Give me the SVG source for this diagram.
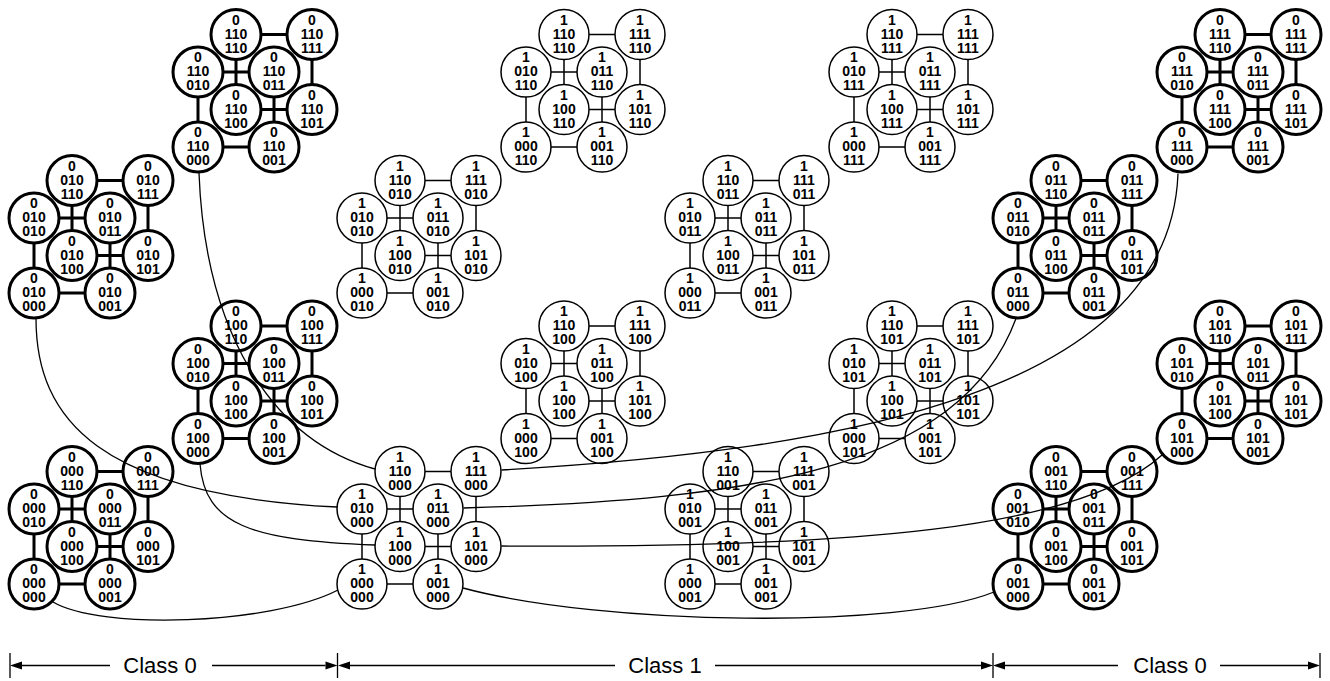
<svg xmlns="http://www.w3.org/2000/svg" width="1330" height="681" viewBox="0 0 1330 681">
<style>
.cube circle{fill:#fff;stroke:#000}
.k circle{stroke-width:3}
.t circle{stroke-width:1.5}
.e{fill:none;stroke:#000}
.k .e{stroke-width:3}
.t .e{stroke-width:1.5}
.cube text{font-family:"Liberation Sans",Arial,sans-serif;font-weight:bold;font-size:14px;text-anchor:middle;fill:#000}
#connectors path{fill:none;stroke:#000;stroke-width:1.3}
#dims path{fill:none;stroke:#000;stroke-width:1.3}
#dims polygon{fill:#000}
#dims text{font-family:"Liberation Sans",Arial,sans-serif;font-size:22px;text-anchor:middle;fill:#000}
</style>
<defs>
<path id="edges" d="M0 0H76M0 0V-75M0 -75H76M76 0V-75M38 -37.5H114M38 -37.5V-112.5M38 -112.5H114M114 -37.5V-112.5"/>
</defs>

<!-- Class 0 left -->
<g id="cube0-000" class="cube k" transform="translate(34,584)">
<use href="#edges" class="e"/>
<g id="n0-000-000"><circle r="25"/><text><tspan x="0" y="-10">0</tspan><tspan x="0" y="4">000</tspan><tspan x="0" y="18">000</tspan></text></g>
<g id="n0-000-001" transform="translate(76,0)"><circle r="25"/><text><tspan x="0" y="-10">0</tspan><tspan x="0" y="4">000</tspan><tspan x="0" y="18">001</tspan></text></g>
<g id="n0-000-010" transform="translate(0,-75)"><circle r="25"/><text><tspan x="0" y="-10">0</tspan><tspan x="0" y="4">000</tspan><tspan x="0" y="18">010</tspan></text></g>
<g id="n0-000-011" transform="translate(76,-75)"><circle r="25"/><text><tspan x="0" y="-10">0</tspan><tspan x="0" y="4">000</tspan><tspan x="0" y="18">011</tspan></text></g>
<g id="n0-000-100" transform="translate(38,-37.5)"><circle r="25"/><text><tspan x="0" y="-10">0</tspan><tspan x="0" y="4">000</tspan><tspan x="0" y="18">100</tspan></text></g>
<g id="n0-000-101" transform="translate(114,-37.5)"><circle r="25"/><text><tspan x="0" y="-10">0</tspan><tspan x="0" y="4">000</tspan><tspan x="0" y="18">101</tspan></text></g>
<g id="n0-000-110" transform="translate(38,-112.5)"><circle r="25"/><text><tspan x="0" y="-10">0</tspan><tspan x="0" y="4">000</tspan><tspan x="0" y="18">110</tspan></text></g>
<g id="n0-000-111" transform="translate(114,-112.5)"><circle r="25"/><text><tspan x="0" y="-10">0</tspan><tspan x="0" y="4">000</tspan><tspan x="0" y="18">111</tspan></text></g>
</g>

<g id="cube0-100" class="cube k" transform="translate(198,438.5)">
<use href="#edges" class="e"/>
<g id="n0-100-000"><circle r="25"/><text><tspan x="0" y="-10">0</tspan><tspan x="0" y="4">100</tspan><tspan x="0" y="18">000</tspan></text></g>
<g id="n0-100-001" transform="translate(76,0)"><circle r="25"/><text><tspan x="0" y="-10">0</tspan><tspan x="0" y="4">100</tspan><tspan x="0" y="18">001</tspan></text></g>
<g id="n0-100-010" transform="translate(0,-75)"><circle r="25"/><text><tspan x="0" y="-10">0</tspan><tspan x="0" y="4">100</tspan><tspan x="0" y="18">010</tspan></text></g>
<g id="n0-100-011" transform="translate(76,-75)"><circle r="25"/><text><tspan x="0" y="-10">0</tspan><tspan x="0" y="4">100</tspan><tspan x="0" y="18">011</tspan></text></g>
<g id="n0-100-100" transform="translate(38,-37.5)"><circle r="25"/><text><tspan x="0" y="-10">0</tspan><tspan x="0" y="4">100</tspan><tspan x="0" y="18">100</tspan></text></g>
<g id="n0-100-101" transform="translate(114,-37.5)"><circle r="25"/><text><tspan x="0" y="-10">0</tspan><tspan x="0" y="4">100</tspan><tspan x="0" y="18">101</tspan></text></g>
<g id="n0-100-110" transform="translate(38,-112.5)"><circle r="25"/><text><tspan x="0" y="-10">0</tspan><tspan x="0" y="4">100</tspan><tspan x="0" y="18">110</tspan></text></g>
<g id="n0-100-111" transform="translate(114,-112.5)"><circle r="25"/><text><tspan x="0" y="-10">0</tspan><tspan x="0" y="4">100</tspan><tspan x="0" y="18">111</tspan></text></g>
</g>

<g id="cube0-010" class="cube k" transform="translate(34,293)">
<use href="#edges" class="e"/>
<g id="n0-010-000"><circle r="25"/><text><tspan x="0" y="-10">0</tspan><tspan x="0" y="4">010</tspan><tspan x="0" y="18">000</tspan></text></g>
<g id="n0-010-001" transform="translate(76,0)"><circle r="25"/><text><tspan x="0" y="-10">0</tspan><tspan x="0" y="4">010</tspan><tspan x="0" y="18">001</tspan></text></g>
<g id="n0-010-010" transform="translate(0,-75)"><circle r="25"/><text><tspan x="0" y="-10">0</tspan><tspan x="0" y="4">010</tspan><tspan x="0" y="18">010</tspan></text></g>
<g id="n0-010-011" transform="translate(76,-75)"><circle r="25"/><text><tspan x="0" y="-10">0</tspan><tspan x="0" y="4">010</tspan><tspan x="0" y="18">011</tspan></text></g>
<g id="n0-010-100" transform="translate(38,-37.5)"><circle r="25"/><text><tspan x="0" y="-10">0</tspan><tspan x="0" y="4">010</tspan><tspan x="0" y="18">100</tspan></text></g>
<g id="n0-010-101" transform="translate(114,-37.5)"><circle r="25"/><text><tspan x="0" y="-10">0</tspan><tspan x="0" y="4">010</tspan><tspan x="0" y="18">101</tspan></text></g>
<g id="n0-010-110" transform="translate(38,-112.5)"><circle r="25"/><text><tspan x="0" y="-10">0</tspan><tspan x="0" y="4">010</tspan><tspan x="0" y="18">110</tspan></text></g>
<g id="n0-010-111" transform="translate(114,-112.5)"><circle r="25"/><text><tspan x="0" y="-10">0</tspan><tspan x="0" y="4">010</tspan><tspan x="0" y="18">111</tspan></text></g>
</g>

<g id="cube0-110" class="cube k" transform="translate(198,147)">
<use href="#edges" class="e"/>
<g id="n0-110-000"><circle r="25"/><text><tspan x="0" y="-10">0</tspan><tspan x="0" y="4">110</tspan><tspan x="0" y="18">000</tspan></text></g>
<g id="n0-110-001" transform="translate(76,0)"><circle r="25"/><text><tspan x="0" y="-10">0</tspan><tspan x="0" y="4">110</tspan><tspan x="0" y="18">001</tspan></text></g>
<g id="n0-110-010" transform="translate(0,-75)"><circle r="25"/><text><tspan x="0" y="-10">0</tspan><tspan x="0" y="4">110</tspan><tspan x="0" y="18">010</tspan></text></g>
<g id="n0-110-011" transform="translate(76,-75)"><circle r="25"/><text><tspan x="0" y="-10">0</tspan><tspan x="0" y="4">110</tspan><tspan x="0" y="18">011</tspan></text></g>
<g id="n0-110-100" transform="translate(38,-37.5)"><circle r="25"/><text><tspan x="0" y="-10">0</tspan><tspan x="0" y="4">110</tspan><tspan x="0" y="18">100</tspan></text></g>
<g id="n0-110-101" transform="translate(114,-37.5)"><circle r="25"/><text><tspan x="0" y="-10">0</tspan><tspan x="0" y="4">110</tspan><tspan x="0" y="18">101</tspan></text></g>
<g id="n0-110-110" transform="translate(38,-112.5)"><circle r="25"/><text><tspan x="0" y="-10">0</tspan><tspan x="0" y="4">110</tspan><tspan x="0" y="18">110</tspan></text></g>
<g id="n0-110-111" transform="translate(114,-112.5)"><circle r="25"/><text><tspan x="0" y="-10">0</tspan><tspan x="0" y="4">110</tspan><tspan x="0" y="18">111</tspan></text></g>
</g>

<!-- Class 0 right -->
<g id="cube0-001" class="cube k" transform="translate(1018,584)">
<use href="#edges" class="e"/>
<g id="n0-001-000"><circle r="25"/><text><tspan x="0" y="-10">0</tspan><tspan x="0" y="4">001</tspan><tspan x="0" y="18">000</tspan></text></g>
<g id="n0-001-001" transform="translate(76,0)"><circle r="25"/><text><tspan x="0" y="-10">0</tspan><tspan x="0" y="4">001</tspan><tspan x="0" y="18">001</tspan></text></g>
<g id="n0-001-010" transform="translate(0,-75)"><circle r="25"/><text><tspan x="0" y="-10">0</tspan><tspan x="0" y="4">001</tspan><tspan x="0" y="18">010</tspan></text></g>
<g id="n0-001-011" transform="translate(76,-75)"><circle r="25"/><text><tspan x="0" y="-10">0</tspan><tspan x="0" y="4">001</tspan><tspan x="0" y="18">011</tspan></text></g>
<g id="n0-001-100" transform="translate(38,-37.5)"><circle r="25"/><text><tspan x="0" y="-10">0</tspan><tspan x="0" y="4">001</tspan><tspan x="0" y="18">100</tspan></text></g>
<g id="n0-001-101" transform="translate(114,-37.5)"><circle r="25"/><text><tspan x="0" y="-10">0</tspan><tspan x="0" y="4">001</tspan><tspan x="0" y="18">101</tspan></text></g>
<g id="n0-001-110" transform="translate(38,-112.5)"><circle r="25"/><text><tspan x="0" y="-10">0</tspan><tspan x="0" y="4">001</tspan><tspan x="0" y="18">110</tspan></text></g>
<g id="n0-001-111" transform="translate(114,-112.5)"><circle r="25"/><text><tspan x="0" y="-10">0</tspan><tspan x="0" y="4">001</tspan><tspan x="0" y="18">111</tspan></text></g>
</g>

<g id="cube0-101" class="cube k" transform="translate(1182,438.5)">
<use href="#edges" class="e"/>
<g id="n0-101-000"><circle r="25"/><text><tspan x="0" y="-10">0</tspan><tspan x="0" y="4">101</tspan><tspan x="0" y="18">000</tspan></text></g>
<g id="n0-101-001" transform="translate(76,0)"><circle r="25"/><text><tspan x="0" y="-10">0</tspan><tspan x="0" y="4">101</tspan><tspan x="0" y="18">001</tspan></text></g>
<g id="n0-101-010" transform="translate(0,-75)"><circle r="25"/><text><tspan x="0" y="-10">0</tspan><tspan x="0" y="4">101</tspan><tspan x="0" y="18">010</tspan></text></g>
<g id="n0-101-011" transform="translate(76,-75)"><circle r="25"/><text><tspan x="0" y="-10">0</tspan><tspan x="0" y="4">101</tspan><tspan x="0" y="18">011</tspan></text></g>
<g id="n0-101-100" transform="translate(38,-37.5)"><circle r="25"/><text><tspan x="0" y="-10">0</tspan><tspan x="0" y="4">101</tspan><tspan x="0" y="18">100</tspan></text></g>
<g id="n0-101-101" transform="translate(114,-37.5)"><circle r="25"/><text><tspan x="0" y="-10">0</tspan><tspan x="0" y="4">101</tspan><tspan x="0" y="18">101</tspan></text></g>
<g id="n0-101-110" transform="translate(38,-112.5)"><circle r="25"/><text><tspan x="0" y="-10">0</tspan><tspan x="0" y="4">101</tspan><tspan x="0" y="18">110</tspan></text></g>
<g id="n0-101-111" transform="translate(114,-112.5)"><circle r="25"/><text><tspan x="0" y="-10">0</tspan><tspan x="0" y="4">101</tspan><tspan x="0" y="18">111</tspan></text></g>
</g>

<g id="cube0-011" class="cube k" transform="translate(1018,293)">
<use href="#edges" class="e"/>
<g id="n0-011-000"><circle r="25"/><text><tspan x="0" y="-10">0</tspan><tspan x="0" y="4">011</tspan><tspan x="0" y="18">000</tspan></text></g>
<g id="n0-011-001" transform="translate(76,0)"><circle r="25"/><text><tspan x="0" y="-10">0</tspan><tspan x="0" y="4">011</tspan><tspan x="0" y="18">001</tspan></text></g>
<g id="n0-011-010" transform="translate(0,-75)"><circle r="25"/><text><tspan x="0" y="-10">0</tspan><tspan x="0" y="4">011</tspan><tspan x="0" y="18">010</tspan></text></g>
<g id="n0-011-011" transform="translate(76,-75)"><circle r="25"/><text><tspan x="0" y="-10">0</tspan><tspan x="0" y="4">011</tspan><tspan x="0" y="18">011</tspan></text></g>
<g id="n0-011-100" transform="translate(38,-37.5)"><circle r="25"/><text><tspan x="0" y="-10">0</tspan><tspan x="0" y="4">011</tspan><tspan x="0" y="18">100</tspan></text></g>
<g id="n0-011-101" transform="translate(114,-37.5)"><circle r="25"/><text><tspan x="0" y="-10">0</tspan><tspan x="0" y="4">011</tspan><tspan x="0" y="18">101</tspan></text></g>
<g id="n0-011-110" transform="translate(38,-112.5)"><circle r="25"/><text><tspan x="0" y="-10">0</tspan><tspan x="0" y="4">011</tspan><tspan x="0" y="18">110</tspan></text></g>
<g id="n0-011-111" transform="translate(114,-112.5)"><circle r="25"/><text><tspan x="0" y="-10">0</tspan><tspan x="0" y="4">011</tspan><tspan x="0" y="18">111</tspan></text></g>
</g>

<g id="cube0-111" class="cube k" transform="translate(1182,147)">
<use href="#edges" class="e"/>
<g id="n0-111-000"><circle r="25"/><text><tspan x="0" y="-10">0</tspan><tspan x="0" y="4">111</tspan><tspan x="0" y="18">000</tspan></text></g>
<g id="n0-111-001" transform="translate(76,0)"><circle r="25"/><text><tspan x="0" y="-10">0</tspan><tspan x="0" y="4">111</tspan><tspan x="0" y="18">001</tspan></text></g>
<g id="n0-111-010" transform="translate(0,-75)"><circle r="25"/><text><tspan x="0" y="-10">0</tspan><tspan x="0" y="4">111</tspan><tspan x="0" y="18">010</tspan></text></g>
<g id="n0-111-011" transform="translate(76,-75)"><circle r="25"/><text><tspan x="0" y="-10">0</tspan><tspan x="0" y="4">111</tspan><tspan x="0" y="18">011</tspan></text></g>
<g id="n0-111-100" transform="translate(38,-37.5)"><circle r="25"/><text><tspan x="0" y="-10">0</tspan><tspan x="0" y="4">111</tspan><tspan x="0" y="18">100</tspan></text></g>
<g id="n0-111-101" transform="translate(114,-37.5)"><circle r="25"/><text><tspan x="0" y="-10">0</tspan><tspan x="0" y="4">111</tspan><tspan x="0" y="18">101</tspan></text></g>
<g id="n0-111-110" transform="translate(38,-112.5)"><circle r="25"/><text><tspan x="0" y="-10">0</tspan><tspan x="0" y="4">111</tspan><tspan x="0" y="18">110</tspan></text></g>
<g id="n0-111-111" transform="translate(114,-112.5)"><circle r="25"/><text><tspan x="0" y="-10">0</tspan><tspan x="0" y="4">111</tspan><tspan x="0" y="18">111</tspan></text></g>
</g>

<!-- Class 1 -->
<g id="cube1-000" class="cube t" transform="translate(362,584)">
<use href="#edges" class="e"/>
<g id="n1-000-000"><circle r="25"/><text><tspan x="0" y="-10">1</tspan><tspan x="0" y="4">000</tspan><tspan x="0" y="18">000</tspan></text></g>
<g id="n1-001-000" transform="translate(76,0)"><circle r="25"/><text><tspan x="0" y="-10">1</tspan><tspan x="0" y="4">001</tspan><tspan x="0" y="18">000</tspan></text></g>
<g id="n1-010-000" transform="translate(0,-75)"><circle r="25"/><text><tspan x="0" y="-10">1</tspan><tspan x="0" y="4">010</tspan><tspan x="0" y="18">000</tspan></text></g>
<g id="n1-011-000" transform="translate(76,-75)"><circle r="25"/><text><tspan x="0" y="-10">1</tspan><tspan x="0" y="4">011</tspan><tspan x="0" y="18">000</tspan></text></g>
<g id="n1-100-000" transform="translate(38,-37.5)"><circle r="25"/><text><tspan x="0" y="-10">1</tspan><tspan x="0" y="4">100</tspan><tspan x="0" y="18">000</tspan></text></g>
<g id="n1-101-000" transform="translate(114,-37.5)"><circle r="25"/><text><tspan x="0" y="-10">1</tspan><tspan x="0" y="4">101</tspan><tspan x="0" y="18">000</tspan></text></g>
<g id="n1-110-000" transform="translate(38,-112.5)"><circle r="25"/><text><tspan x="0" y="-10">1</tspan><tspan x="0" y="4">110</tspan><tspan x="0" y="18">000</tspan></text></g>
<g id="n1-111-000" transform="translate(114,-112.5)"><circle r="25"/><text><tspan x="0" y="-10">1</tspan><tspan x="0" y="4">111</tspan><tspan x="0" y="18">000</tspan></text></g>
</g>

<g id="cube1-001" class="cube t" transform="translate(690,584)">
<use href="#edges" class="e"/>
<g id="n1-000-001"><circle r="25"/><text><tspan x="0" y="-10">1</tspan><tspan x="0" y="4">000</tspan><tspan x="0" y="18">001</tspan></text></g>
<g id="n1-001-001" transform="translate(76,0)"><circle r="25"/><text><tspan x="0" y="-10">1</tspan><tspan x="0" y="4">001</tspan><tspan x="0" y="18">001</tspan></text></g>
<g id="n1-010-001" transform="translate(0,-75)"><circle r="25"/><text><tspan x="0" y="-10">1</tspan><tspan x="0" y="4">010</tspan><tspan x="0" y="18">001</tspan></text></g>
<g id="n1-011-001" transform="translate(76,-75)"><circle r="25"/><text><tspan x="0" y="-10">1</tspan><tspan x="0" y="4">011</tspan><tspan x="0" y="18">001</tspan></text></g>
<g id="n1-100-001" transform="translate(38,-37.5)"><circle r="25"/><text><tspan x="0" y="-10">1</tspan><tspan x="0" y="4">100</tspan><tspan x="0" y="18">001</tspan></text></g>
<g id="n1-101-001" transform="translate(114,-37.5)"><circle r="25"/><text><tspan x="0" y="-10">1</tspan><tspan x="0" y="4">101</tspan><tspan x="0" y="18">001</tspan></text></g>
<g id="n1-110-001" transform="translate(38,-112.5)"><circle r="25"/><text><tspan x="0" y="-10">1</tspan><tspan x="0" y="4">110</tspan><tspan x="0" y="18">001</tspan></text></g>
<g id="n1-111-001" transform="translate(114,-112.5)"><circle r="25"/><text><tspan x="0" y="-10">1</tspan><tspan x="0" y="4">111</tspan><tspan x="0" y="18">001</tspan></text></g>
</g>

<g id="cube1-100" class="cube t" transform="translate(526,438.5)">
<use href="#edges" class="e"/>
<g id="n1-000-100"><circle r="25"/><text><tspan x="0" y="-10">1</tspan><tspan x="0" y="4">000</tspan><tspan x="0" y="18">100</tspan></text></g>
<g id="n1-001-100" transform="translate(76,0)"><circle r="25"/><text><tspan x="0" y="-10">1</tspan><tspan x="0" y="4">001</tspan><tspan x="0" y="18">100</tspan></text></g>
<g id="n1-010-100" transform="translate(0,-75)"><circle r="25"/><text><tspan x="0" y="-10">1</tspan><tspan x="0" y="4">010</tspan><tspan x="0" y="18">100</tspan></text></g>
<g id="n1-011-100" transform="translate(76,-75)"><circle r="25"/><text><tspan x="0" y="-10">1</tspan><tspan x="0" y="4">011</tspan><tspan x="0" y="18">100</tspan></text></g>
<g id="n1-100-100" transform="translate(38,-37.5)"><circle r="25"/><text><tspan x="0" y="-10">1</tspan><tspan x="0" y="4">100</tspan><tspan x="0" y="18">100</tspan></text></g>
<g id="n1-101-100" transform="translate(114,-37.5)"><circle r="25"/><text><tspan x="0" y="-10">1</tspan><tspan x="0" y="4">101</tspan><tspan x="0" y="18">100</tspan></text></g>
<g id="n1-110-100" transform="translate(38,-112.5)"><circle r="25"/><text><tspan x="0" y="-10">1</tspan><tspan x="0" y="4">110</tspan><tspan x="0" y="18">100</tspan></text></g>
<g id="n1-111-100" transform="translate(114,-112.5)"><circle r="25"/><text><tspan x="0" y="-10">1</tspan><tspan x="0" y="4">111</tspan><tspan x="0" y="18">100</tspan></text></g>
</g>

<g id="cube1-101" class="cube t" transform="translate(854,438.5)">
<use href="#edges" class="e"/>
<g id="n1-000-101"><circle r="25"/><text><tspan x="0" y="-10">1</tspan><tspan x="0" y="4">000</tspan><tspan x="0" y="18">101</tspan></text></g>
<g id="n1-001-101" transform="translate(76,0)"><circle r="25"/><text><tspan x="0" y="-10">1</tspan><tspan x="0" y="4">001</tspan><tspan x="0" y="18">101</tspan></text></g>
<g id="n1-010-101" transform="translate(0,-75)"><circle r="25"/><text><tspan x="0" y="-10">1</tspan><tspan x="0" y="4">010</tspan><tspan x="0" y="18">101</tspan></text></g>
<g id="n1-011-101" transform="translate(76,-75)"><circle r="25"/><text><tspan x="0" y="-10">1</tspan><tspan x="0" y="4">011</tspan><tspan x="0" y="18">101</tspan></text></g>
<g id="n1-100-101" transform="translate(38,-37.5)"><circle r="25"/><text><tspan x="0" y="-10">1</tspan><tspan x="0" y="4">100</tspan><tspan x="0" y="18">101</tspan></text></g>
<g id="n1-101-101" transform="translate(114,-37.5)"><circle r="25"/><text><tspan x="0" y="-10">1</tspan><tspan x="0" y="4">101</tspan><tspan x="0" y="18">101</tspan></text></g>
<g id="n1-110-101" transform="translate(38,-112.5)"><circle r="25"/><text><tspan x="0" y="-10">1</tspan><tspan x="0" y="4">110</tspan><tspan x="0" y="18">101</tspan></text></g>
<g id="n1-111-101" transform="translate(114,-112.5)"><circle r="25"/><text><tspan x="0" y="-10">1</tspan><tspan x="0" y="4">111</tspan><tspan x="0" y="18">101</tspan></text></g>
</g>

<g id="cube1-010" class="cube t" transform="translate(362,293)">
<use href="#edges" class="e"/>
<g id="n1-000-010"><circle r="25"/><text><tspan x="0" y="-10">1</tspan><tspan x="0" y="4">000</tspan><tspan x="0" y="18">010</tspan></text></g>
<g id="n1-001-010" transform="translate(76,0)"><circle r="25"/><text><tspan x="0" y="-10">1</tspan><tspan x="0" y="4">001</tspan><tspan x="0" y="18">010</tspan></text></g>
<g id="n1-010-010" transform="translate(0,-75)"><circle r="25"/><text><tspan x="0" y="-10">1</tspan><tspan x="0" y="4">010</tspan><tspan x="0" y="18">010</tspan></text></g>
<g id="n1-011-010" transform="translate(76,-75)"><circle r="25"/><text><tspan x="0" y="-10">1</tspan><tspan x="0" y="4">011</tspan><tspan x="0" y="18">010</tspan></text></g>
<g id="n1-100-010" transform="translate(38,-37.5)"><circle r="25"/><text><tspan x="0" y="-10">1</tspan><tspan x="0" y="4">100</tspan><tspan x="0" y="18">010</tspan></text></g>
<g id="n1-101-010" transform="translate(114,-37.5)"><circle r="25"/><text><tspan x="0" y="-10">1</tspan><tspan x="0" y="4">101</tspan><tspan x="0" y="18">010</tspan></text></g>
<g id="n1-110-010" transform="translate(38,-112.5)"><circle r="25"/><text><tspan x="0" y="-10">1</tspan><tspan x="0" y="4">110</tspan><tspan x="0" y="18">010</tspan></text></g>
<g id="n1-111-010" transform="translate(114,-112.5)"><circle r="25"/><text><tspan x="0" y="-10">1</tspan><tspan x="0" y="4">111</tspan><tspan x="0" y="18">010</tspan></text></g>
</g>

<g id="cube1-011" class="cube t" transform="translate(690,293)">
<use href="#edges" class="e"/>
<g id="n1-000-011"><circle r="25"/><text><tspan x="0" y="-10">1</tspan><tspan x="0" y="4">000</tspan><tspan x="0" y="18">011</tspan></text></g>
<g id="n1-001-011" transform="translate(76,0)"><circle r="25"/><text><tspan x="0" y="-10">1</tspan><tspan x="0" y="4">001</tspan><tspan x="0" y="18">011</tspan></text></g>
<g id="n1-010-011" transform="translate(0,-75)"><circle r="25"/><text><tspan x="0" y="-10">1</tspan><tspan x="0" y="4">010</tspan><tspan x="0" y="18">011</tspan></text></g>
<g id="n1-011-011" transform="translate(76,-75)"><circle r="25"/><text><tspan x="0" y="-10">1</tspan><tspan x="0" y="4">011</tspan><tspan x="0" y="18">011</tspan></text></g>
<g id="n1-100-011" transform="translate(38,-37.5)"><circle r="25"/><text><tspan x="0" y="-10">1</tspan><tspan x="0" y="4">100</tspan><tspan x="0" y="18">011</tspan></text></g>
<g id="n1-101-011" transform="translate(114,-37.5)"><circle r="25"/><text><tspan x="0" y="-10">1</tspan><tspan x="0" y="4">101</tspan><tspan x="0" y="18">011</tspan></text></g>
<g id="n1-110-011" transform="translate(38,-112.5)"><circle r="25"/><text><tspan x="0" y="-10">1</tspan><tspan x="0" y="4">110</tspan><tspan x="0" y="18">011</tspan></text></g>
<g id="n1-111-011" transform="translate(114,-112.5)"><circle r="25"/><text><tspan x="0" y="-10">1</tspan><tspan x="0" y="4">111</tspan><tspan x="0" y="18">011</tspan></text></g>
</g>

<g id="cube1-110" class="cube t" transform="translate(526,147)">
<use href="#edges" class="e"/>
<g id="n1-000-110"><circle r="25"/><text><tspan x="0" y="-10">1</tspan><tspan x="0" y="4">000</tspan><tspan x="0" y="18">110</tspan></text></g>
<g id="n1-001-110" transform="translate(76,0)"><circle r="25"/><text><tspan x="0" y="-10">1</tspan><tspan x="0" y="4">001</tspan><tspan x="0" y="18">110</tspan></text></g>
<g id="n1-010-110" transform="translate(0,-75)"><circle r="25"/><text><tspan x="0" y="-10">1</tspan><tspan x="0" y="4">010</tspan><tspan x="0" y="18">110</tspan></text></g>
<g id="n1-011-110" transform="translate(76,-75)"><circle r="25"/><text><tspan x="0" y="-10">1</tspan><tspan x="0" y="4">011</tspan><tspan x="0" y="18">110</tspan></text></g>
<g id="n1-100-110" transform="translate(38,-37.5)"><circle r="25"/><text><tspan x="0" y="-10">1</tspan><tspan x="0" y="4">100</tspan><tspan x="0" y="18">110</tspan></text></g>
<g id="n1-101-110" transform="translate(114,-37.5)"><circle r="25"/><text><tspan x="0" y="-10">1</tspan><tspan x="0" y="4">101</tspan><tspan x="0" y="18">110</tspan></text></g>
<g id="n1-110-110" transform="translate(38,-112.5)"><circle r="25"/><text><tspan x="0" y="-10">1</tspan><tspan x="0" y="4">110</tspan><tspan x="0" y="18">110</tspan></text></g>
<g id="n1-111-110" transform="translate(114,-112.5)"><circle r="25"/><text><tspan x="0" y="-10">1</tspan><tspan x="0" y="4">111</tspan><tspan x="0" y="18">110</tspan></text></g>
</g>

<g id="cube1-111" class="cube t" transform="translate(854,147)">
<use href="#edges" class="e"/>
<g id="n1-000-111"><circle r="25"/><text><tspan x="0" y="-10">1</tspan><tspan x="0" y="4">000</tspan><tspan x="0" y="18">111</tspan></text></g>
<g id="n1-001-111" transform="translate(76,0)"><circle r="25"/><text><tspan x="0" y="-10">1</tspan><tspan x="0" y="4">001</tspan><tspan x="0" y="18">111</tspan></text></g>
<g id="n1-010-111" transform="translate(0,-75)"><circle r="25"/><text><tspan x="0" y="-10">1</tspan><tspan x="0" y="4">010</tspan><tspan x="0" y="18">111</tspan></text></g>
<g id="n1-011-111" transform="translate(76,-75)"><circle r="25"/><text><tspan x="0" y="-10">1</tspan><tspan x="0" y="4">011</tspan><tspan x="0" y="18">111</tspan></text></g>
<g id="n1-100-111" transform="translate(38,-37.5)"><circle r="25"/><text><tspan x="0" y="-10">1</tspan><tspan x="0" y="4">100</tspan><tspan x="0" y="18">111</tspan></text></g>
<g id="n1-101-111" transform="translate(114,-37.5)"><circle r="25"/><text><tspan x="0" y="-10">1</tspan><tspan x="0" y="4">101</tspan><tspan x="0" y="18">111</tspan></text></g>
<g id="n1-110-111" transform="translate(38,-112.5)"><circle r="25"/><text><tspan x="0" y="-10">1</tspan><tspan x="0" y="4">110</tspan><tspan x="0" y="18">111</tspan></text></g>
<g id="n1-111-111" transform="translate(114,-112.5)"><circle r="25"/><text><tspan x="0" y="-10">1</tspan><tspan x="0" y="4">111</tspan><tspan x="0" y="18">111</tspan></text></g>
</g>

<g id="connectors">
<path d="M199 173C205 330 270 440 375 469"/>
<path d="M36 318.5C36 420 100 495 337 507"/>
<path d="M200 464C205 525 250 540 375 545"/>
<path d="M53 602C100 630 270 625 338 590"/>
<path d="M463 588C600 625 900 630 994 592"/>
<path d="M501.5 546C850 548 1080 530 1162 455"/>
<path d="M463.5 508C750 500 960 470 1016 318.5"/>
<path d="M501.5 470C850 450 1170 390 1178 173.5"/>
</g>

<g id="dims">
<path d="M10 653V678M337.5 653V678M993 653V678M1320 653V678"/>
<path d="M22 665.5H110M212 665.5H325.5M350 665.5H615M715 665.5H981M1005 665.5H1118M1220 665.5H1308"/>
<polygon points="10,665.5 22,661.5 22,669.5"/>
<polygon points="337.5,665.5 325.5,661.5 325.5,669.5"/>
<polygon points="338,665.5 350,661.5 350,669.5"/>
<polygon points="993,665.5 981,661.5 981,669.5"/>
<polygon points="993,665.5 1005,661.5 1005,669.5"/>
<polygon points="1320,665.5 1308,661.5 1308,669.5"/>
<text x="160" y="672.5">Class 0</text>
<text x="665" y="672.5">Class 1</text>
<text x="1170" y="672.5">Class 0</text>
</g>
</svg>
